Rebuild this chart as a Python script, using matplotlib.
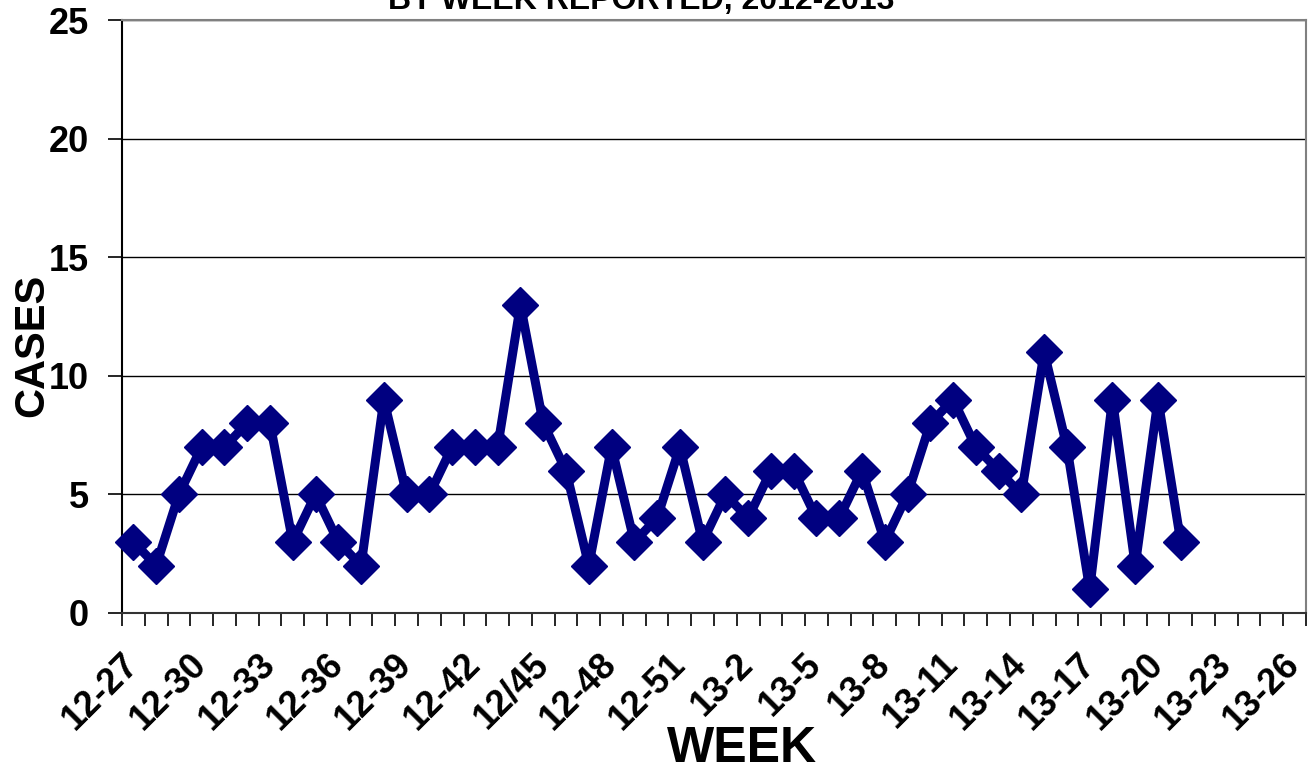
import numpy as np
import matplotlib
matplotlib.use("Agg")
import matplotlib.pyplot as plt
from matplotlib.transforms import ScaledTranslation

plt.rcParams['font.family'] = ['Liberation Sans', 'DejaVu Sans']
plt.rcParams['font.weight'] = 'bold'

# weeks 12-27 .. 12-52 then 13-1 .. 13-26
weeks = ["12-%d" % w for w in range(27, 53)] + ["13-%d" % w for w in range(1, 27)]
weeks[18] = "12/45"  # as printed on the original
cases = [3, 2, 5, 7, 7, 8, 8, 3, 5, 3, 2, 9, 5, 5, 7, 7, 7, 13, 8, 6, 2, 7, 3, 4,
         7, 3, 5, 4, 6, 6, 4, 4, 6, 3, 5, 8, 9, 7, 6, 5, 11, 7, 1, 9, 2, 9, 3]
yticks = [0, 5, 10, 15, 20, 25]

W, H = 1308, 772
fig = plt.figure(figsize=(W / 100, H / 100), dpi=100)
ax = fig.add_axes([122 / W, 1 - 613 / H, (1306 - 122) / W, (613 - 20) / H])

x = np.arange(len(cases))
ax.plot(x, cases, color='#000080', lw=6.5, marker='D', markersize=18.5,
        solid_joinstyle='round', zorder=3, clip_on=False)

ax.set_xlim(-0.5, len(weeks) - 0.5)
ax.set_ylim(0, 25)
ax.set_yticks(yticks)
ax.yaxis.grid(True, color='black', lw=1)
ax.set_axisbelow(True)

# category boundaries get the tick marks, every 3rd centre gets a label
ax.set_xticks(np.arange(-0.5, len(weeks), 1.0), minor=True)
ax.set_xticks(np.arange(0, len(weeks), 3))
ax.set_xticklabels(weeks[::3], rotation=45, ha='right', va='center',
                   rotation_mode='anchor', fontsize=26, fontweight='bold')
shift = ScaledTranslation(0.09, 0, fig.dpi_scale_trans)
for lab in ax.get_xticklabels():
    lab.set_transform(lab.get_transform() + shift)
ax.tick_params(axis='x', which='major', length=0, pad=33)
ax.tick_params(axis='x', which='minor', length=9, width=1.2, direction='out')
ax.tick_params(axis='y', length=10, width=1.2, direction='out', pad=14,
               labelsize=26)
for lab in ax.get_yticklabels():
    lab.set_fontweight('bold')

for s in ['top', 'right']:
    ax.spines[s].set_color('#808080')
    ax.spines[s].set_linewidth(1.5)
ax.spines['left'].set_linewidth(1.5)
ax.spines['bottom'].set_linewidth(1.5)
ax.spines['bottom'].set_color('#333333')

fig.text(742 / W, 1 - 772 / H, "WEEK", ha='center', va='bottom',
         fontsize=36, fontweight='bold')
fig.text(43 / W, 1 - 345 / H, "CASES", rotation=90, rotation_mode='anchor',
         ha='center', va='baseline', fontsize=30, fontweight='bold')
fig.text(641 / W, 1 - 9 / H, "BY WEEK REPORTED, 2012-2013", ha='center',
         va='baseline', fontsize=23, fontweight='bold')

fig.savefig("out.png", dpi=100)
